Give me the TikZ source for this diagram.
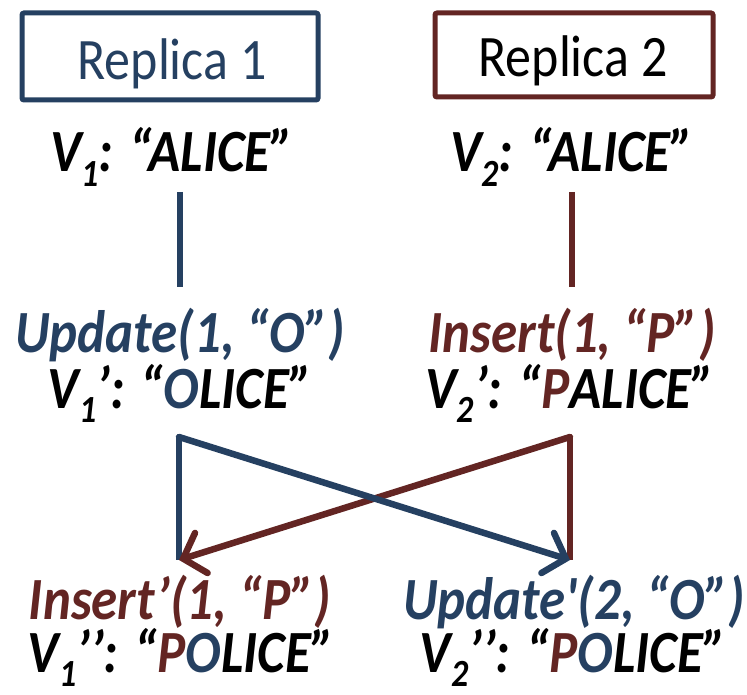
\documentclass[tikz,border=0pt]{standalone}
\usepackage{fontspec}
\setmainfont{Carlito}
\newfontfamily\nomap{Carlito}
\usetikzlibrary{arrows.meta}
\definecolor{rblue}{HTML}{254061}
\definecolor{rred}{HTML}{632523}
\newcommand{\vsub}[1]{\raisebox{-0.24em}{\fontsize{34}{34}\selectfont #1}}
\newcommand{\tall}[1]{\scalebox{1}[1.13]{#1}}
\tikzset{
  boxtxt/.style={font=\fontsize{52}{58}\selectfont, inner sep=0pt, anchor=base},
  lbl/.style={font=\fontsize{53}{58}\selectfont\bfseries\itshape, inner sep=0pt, anchor=base},
  repbox/.style={line width=5pt, rounded corners=2pt},
  conn/.style={line width=6.5pt},
  arr/.style={line width=6.5pt, -{Straight Barb[length=19pt,width=42pt,line cap=round]}, line cap=round}
}
\begin{document}
\begin{tikzpicture}[x=1pt,y=-1pt]
\useasboundingbox (0,0) rectangle (747,695);
% boxes
\draw[repbox, rblue] (22,13) rectangle (318,100);
\draw[repbox, rred] (435,13) rectangle (713,97);
\node[boxtxt, text=rblue] (r1) at (172,80) {\tall{Replica 1}};
\node[boxtxt] (r2) at (573,77) {\tall{Replica 2}};
% first values
\node[lbl] (v1) at (172,172) {\tall{V\vsub{1}: “ALICE”}};
\node[lbl] (v2) at (572,172) {\tall{V\vsub{2}: “ALICE”}};
% ops
\node[lbl, text=rblue] (op1) at (180,352) {\tall{Update(1, “O”)}};
\node[lbl, text=rred] (op2) at (572,352) {\tall{Insert(1, “P”)}};
\node[lbl] (v1p) at (180,408) {\tall{V\vsub{1}’: “\textcolor{rblue}{O}LICE”}};
\node[lbl] (v2p) at (570,408) {\tall{V\vsub{2}’: “\textcolor{rred}{P}ALICE”}};
% transformed ops
\node[lbl, text=rred] (op1t) at (180,619) {\tall{Insert’(1, “P”)}};
\node[lbl, text=rblue] (op2t) at (574,619) {\tall{Update{\nomap\bfseries\itshape '}(2, “O”)}};
\node[lbl] (v1pp) at (181,672) {\tall{V\vsub{1}’’: “\textcolor{rred}{P}\textcolor{rblue}{O}LICE”}};
\node[lbl] (v2pp) at (573,672) {\tall{V\vsub{2}’’: “\textcolor{rred}{P}\textcolor{rblue}{O}LICE”}};
% coordinates
\coordinate (a1) at (180,192);
\coordinate (b1) at (180,287);
\coordinate (a2) at (572,192);
\coordinate (b2) at (572,287);
\coordinate (c1) at (179,437);
\coordinate (d1) at (179,560);
\coordinate (c2) at (570,437);
\coordinate (d2) at (570,560);
% connectors
\draw[conn, rblue] (a1) -- (b1);
\draw[conn, rred] (a2) -- (b2);
\draw[conn, rblue] (c1) -- (d1);
\draw[conn, rred] (c2) -- (d2);
\draw[arr, rred] (c2) -- (d1);
\draw[arr, rblue] (c1) -- (d2);
\end{tikzpicture}
\end{document}
